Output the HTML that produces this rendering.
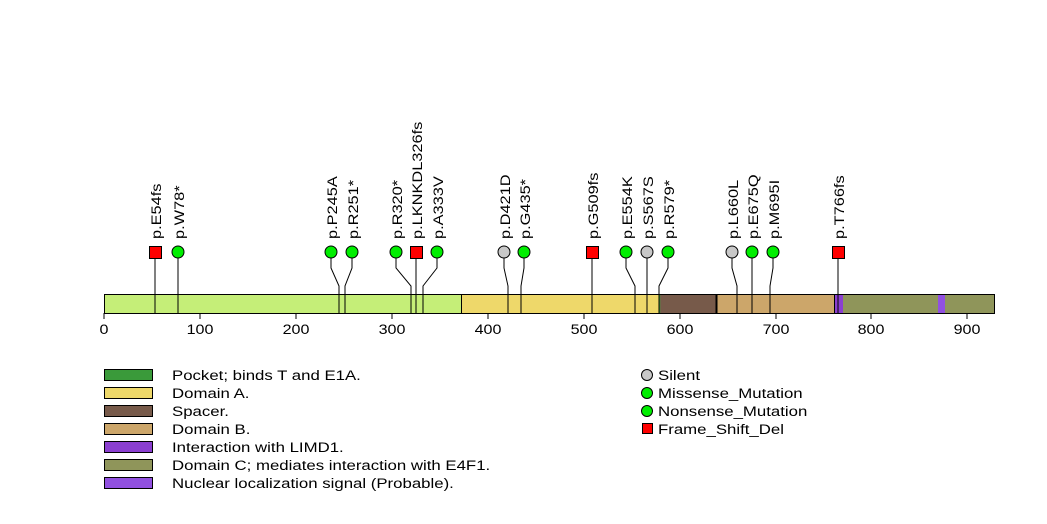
<!DOCTYPE html>
<html><head><meta charset="utf-8"><style>body{margin:0;background:#fff}svg{display:block}text{font-family:"Liberation Sans",sans-serif}</style></head><body>
<svg width="1047" height="524" viewBox="0 0 1047 524" xmlns="http://www.w3.org/2000/svg">
<g stroke="#000" stroke-width="1">
<rect x="104.5" y="294.5" width="357" height="19" fill="#c5ee78"/>
<rect x="461.5" y="294.5" width="198" height="19" fill="#eed86a"/>
<rect x="659.5" y="294.5" width="57" height="19" fill="#775a4a"/>
<rect x="716.5" y="294.5" width="118" height="19" fill="#cca66a"/>
<rect x="834.5" y="294.5" width="104" height="19" fill="#8f955a"/>
<rect x="938.5" y="294.5" width="56" height="19" fill="#8f955a"/>
</g>
<rect x="835" y="295" width="8" height="18" fill="#8b3fd0"/>
<rect x="938" y="295" width="7" height="18" fill="#9150e0"/>
<line x1="659.5" y1="295" x2="659.5" y2="313" stroke="#3a9a3a" stroke-width="1.5"/>
<line x1="716.5" y1="295" x2="716.5" y2="313" stroke="#000" stroke-width="2"/>
<g stroke="#000" stroke-width="1" fill="none">
<line x1="104" y1="313" x2="104" y2="319"/>
<line x1="200" y1="313" x2="200" y2="319"/>
<line x1="296" y1="313" x2="296" y2="319"/>
<line x1="392" y1="313" x2="392" y2="319"/>
<line x1="488" y1="313" x2="488" y2="319"/>
<line x1="584" y1="313" x2="584" y2="319"/>
<line x1="680" y1="313" x2="680" y2="319"/>
<line x1="776" y1="313" x2="776" y2="319"/>
<line x1="871" y1="313" x2="871" y2="319"/>
<line x1="967" y1="313" x2="967" y2="319"/>
<polyline points="155,252 155,313"/>
<polyline points="178,252 178,313"/>
<polyline points="331,252 331,268 339,286 339,313"/>
<polyline points="352,252 352,268 345,286 345,313"/>
<polyline points="396,252 396,268 411,286 411,313"/>
<polyline points="416,252 416,313"/>
<polyline points="437,252 437,268 423,286 423,313"/>
<polyline points="504,252 504,268 508,286 508,313"/>
<polyline points="524,252 524,268 521,286 521,313"/>
<polyline points="592,252 592,313"/>
<polyline points="626,252 626,268 635,286 635,313"/>
<polyline points="647,252 647,313"/>
<polyline points="668,252 668,268 659,286 659,313"/>
<polyline points="732,252 732,268 737,286 737,313"/>
<polyline points="752,252 752,313"/>
<polyline points="773,252 773,268 770,286 770,313"/>
<polyline points="838,252 838,313"/>
</g>
<g font-size="14" text-anchor="middle" fill="#000">
<text transform="translate(104,334) scale(1.15,1)">0</text><text transform="translate(200,334) scale(1.15,1)">100</text><text transform="translate(296,334) scale(1.15,1)">200</text><text transform="translate(392,334) scale(1.15,1)">300</text><text transform="translate(488,334) scale(1.15,1)">400</text><text transform="translate(584,334) scale(1.15,1)">500</text><text transform="translate(680,334) scale(1.15,1)">600</text><text transform="translate(776,334) scale(1.15,1)">700</text><text transform="translate(871,334) scale(1.15,1)">800</text><text transform="translate(967,334) scale(1.15,1)">900</text>
</g>
<g stroke="#000" stroke-width="1">
<rect x="149.5" y="246.5" width="12" height="12" fill="#f00"/>
<rect x="410.5" y="246.5" width="12" height="12" fill="#f00"/>
<rect x="586.5" y="246.5" width="12" height="12" fill="#f00"/>
<rect x="832.5" y="246.5" width="12" height="12" fill="#f00"/>
<g fill="#0e0">
<circle cx="178" cy="252" r="6"/><circle cx="331" cy="252" r="6"/><circle cx="352" cy="252" r="6"/><circle cx="396" cy="252" r="6"/><circle cx="437" cy="252" r="6"/><circle cx="524" cy="252" r="6"/><circle cx="626" cy="252" r="6"/><circle cx="668" cy="252" r="6"/><circle cx="752" cy="252" r="6"/><circle cx="773" cy="252" r="6"/>
</g>
<g fill="#c8c8c8">
<circle cx="504" cy="252" r="6"/><circle cx="647" cy="252" r="6"/><circle cx="732" cy="252" r="6"/>
</g>
</g>
<g font-size="14" fill="#000">
<text transform="translate(161,239) rotate(-90) scale(1.17,1)">p.E54fs</text>
<text transform="translate(184,239) rotate(-90) scale(1.17,1)">p.W78*</text>
<text transform="translate(337,239) rotate(-90) scale(1.17,1)">p.P245A</text>
<text transform="translate(358,239) rotate(-90) scale(1.17,1)">p.R251*</text>
<text transform="translate(402,239) rotate(-90) scale(1.17,1)">p.R320*</text>
<text transform="translate(422,239) rotate(-90) scale(1.17,1)">p.LKNKDL326fs</text>
<text transform="translate(443,239) rotate(-90) scale(1.17,1)">p.A333V</text>
<text transform="translate(510,239) rotate(-90) scale(1.17,1)">p.D421D</text>
<text transform="translate(530,239) rotate(-90) scale(1.17,1)">p.G435*</text>
<text transform="translate(598,239) rotate(-90) scale(1.17,1)">p.G509fs</text>
<text transform="translate(632,239) rotate(-90) scale(1.17,1)">p.E554K</text>
<text transform="translate(653,239) rotate(-90) scale(1.17,1)">p.S567S</text>
<text transform="translate(674,239) rotate(-90) scale(1.17,1)">p.R579*</text>
<text transform="translate(738,239) rotate(-90) scale(1.17,1)">p.L660L</text>
<text transform="translate(758,239) rotate(-90) scale(1.17,1)">p.E675Q</text>
<text transform="translate(779,239) rotate(-90) scale(1.17,1)">p.M695I</text>
<text transform="translate(844,239) rotate(-90) scale(1.17,1)">p.T766fs</text>
</g>
<g stroke="#000" stroke-width="1">
<rect x="104.5" y="369.5" width="48" height="11" fill="#3a9a3a"/>
<rect x="104.5" y="387.5" width="48" height="11" fill="#eed86a"/>
<rect x="104.5" y="405.5" width="48" height="11" fill="#775a4a"/>
<rect x="104.5" y="423.5" width="48" height="11" fill="#cca66a"/>
<rect x="104.5" y="441.5" width="48" height="11" fill="#8b3fd0"/>
<rect x="104.5" y="459.5" width="48" height="11" fill="#8f955a"/>
<rect x="104.5" y="477.5" width="48" height="11" fill="#9150e0"/>
<circle cx="647" cy="375" r="5.5" fill="#c8c8c8"/>
<circle cx="647" cy="393" r="5.5" fill="#0e0"/>
<circle cx="647" cy="411" r="5.5" fill="#0e0"/>
<rect x="642.5" y="423.5" width="10" height="10" fill="#f00"/>
</g>
<g font-size="14" fill="#000">
<text transform="translate(172,380) scale(1.2,1)">Pocket; binds T and E1A.</text>
<text transform="translate(172,398) scale(1.2,1)">Domain A.</text>
<text transform="translate(172,416) scale(1.2,1)">Spacer.</text>
<text transform="translate(172,434) scale(1.2,1)">Domain B.</text>
<text transform="translate(172,452) scale(1.2,1)">Interaction with LIMD1.</text>
<text transform="translate(172,470) scale(1.2,1)">Domain C; mediates interaction with E4F1.</text>
<text transform="translate(172,488) scale(1.2,1)">Nuclear localization signal (Probable).</text>
<text transform="translate(658,380) scale(1.2,1)">Silent</text>
<text transform="translate(658,398) scale(1.2,1)">Missense_Mutation</text>
<text transform="translate(658,416) scale(1.2,1)">Nonsense_Mutation</text>
<text transform="translate(658,434) scale(1.2,1)">Frame_Shift_Del</text>
</g>
</svg>
</body></html>
